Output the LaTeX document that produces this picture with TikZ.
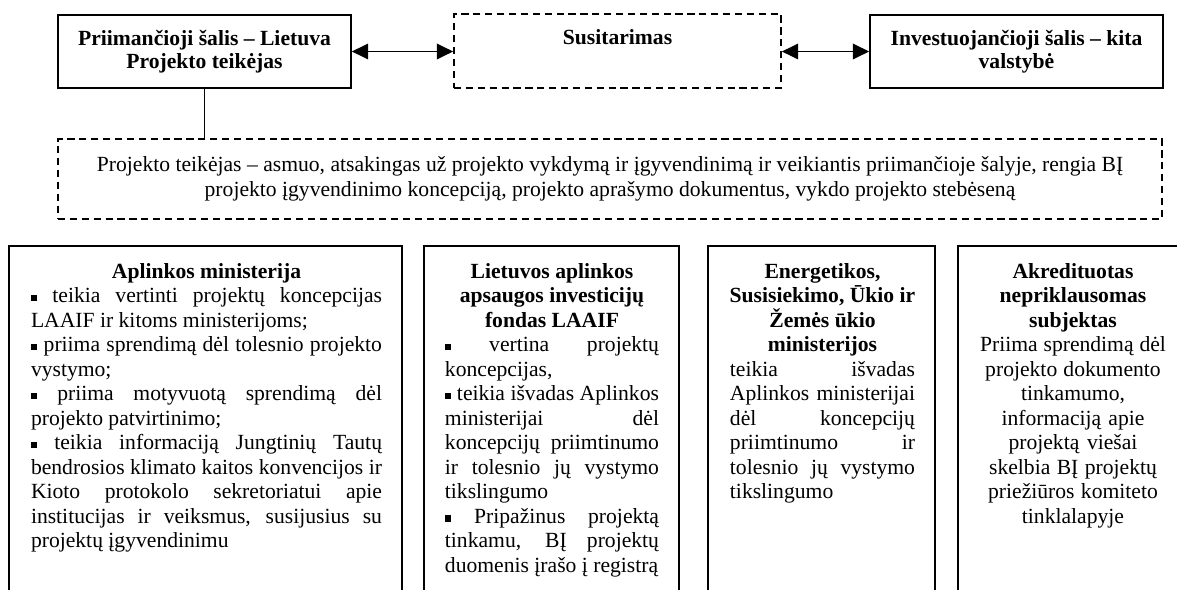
\documentclass[tikz,border=0pt]{standalone}
\usepackage{fontspec}
\setmainfont{Liberation Serif}
\usetikzlibrary{arrows.meta}

\newcommand{\sqb}{\rule[0.08em]{0.3em}{0.3em}}
\newcommand{\plainspace}{\spaceskip=0pt\xspaceskip=0pt\hyphenpenalty=10000\exhyphenpenalty=10000\relax}
\newcommand{\jl}[1]{\makebox[\linewidth][s]{\plainspace #1}\\}
\newcommand{\tl}[1]{\makebox[\linewidth]{\plainspace\bfseries #1}\\}

\begin{document}
\begin{tikzpicture}[x=0.555pt, y=-0.555pt,
	every node/.style={execute at begin node=\plainspace},
	topbox/.style={draw, line width=0.9pt, inner sep=0pt, align=center, minimum width=162.6pt, minimum height=40.5pt, font=\fontsize{12}{13}\selectfont\bfseries},
	dashbox/.style={dash pattern=on 4pt off 2.6pt},
	panel/.style={anchor=north, inner sep=0pt, align=left, font=\fontsize{12}{13.6}\selectfont},
	frame/.style={line width=1pt},
	link/.style={line width=1pt, {Triangle[length=9pt,width=8.5pt]}-{Triangle[length=9pt,width=8.5pt]}}]
	\useasboundingbox (0,0) rectangle (1177,590);
	
	\node[topbox] (host) at (204.5,51.5) {\plainspace Priimančioji šalis – Lietuva\\Projekto teikėjas};
	
	\node[topbox, dashbox, minimum width=181.5pt, minimum height=41.1pt] (agree) at (617.5,51) {Susitarimas\\\phantom{Projekto teikėjas}};
	
	\node[topbox] (investor) at (1016.5,51.5) {\plainspace Investuojančioji šalis – kita\\valstybė};
	
	\draw[link] (host.east) -- (host.east -| agree.west);
	\draw[link] (agree.east |- investor.west) -- (investor.west);
	
	\node[draw, dashbox, line width=0.8pt, inner sep=0pt, minimum width=612.7pt, minimum height=44.4pt, align=center, font=\fontsize{12}{13.6}\selectfont] (note) at (610,179)
		{\plainspace Projekto teikėjas – asmuo, atsakingas už projekto vykdymą ir įgyvendinimą ir veikiantis priimančioje šalyje, rengia BĮ\\projekto įgyvendinimo koncepciją, projekto aprašymo dokumentus, vykdo projekto stebėseną};
	
	\draw[line width=0.8pt] (host.south) -- (host.south |- note.north);
	
	% institutions
	\draw[frame] (9,592) |- (402,246) -- (402,592);
	\draw[frame] (424,592) |- (679,246) -- (679,592);
	\draw[frame] (708,592) |- (935,246) -- (935,592);
	\draw[frame] (958,592) |- (1185,246);
	
	\node[panel, text width=194.8pt] (ministry) at (206.5,263) {%
		\tl{Aplinkos ministerija}
		\jl{\sqb{} teikia vertinti projektų koncepcijas}
		LAAIF ir kitoms ministerijoms;\\
		\jl{\sqb{} priima sprendimą dėl tolesnio projekto}
		vystymo;\\
		\jl{\sqb{} priima motyvuotą sprendimą dėl}
		projekto patvirtinimo;\\
		\jl{\sqb{} teikia informaciją Jungtinių Tautų}
		\jl{bendrosios klimato kaitos konvencijos ir}
		\jl{Kioto protokolo sekretoriatui apie}
		\jl{institucijas ir veiksmus, susijusius su}
		projektų įgyvendinimu};
	
	\node[panel, text width=118.8pt] (fund) at (552,263) {%
		\tl{Lietuvos aplinkos}
		\tl{apsaugos investicijų}
		\tl{fondas LAAIF}
		\jl{\sqb{} vertina projektų}
		koncepcijas,\\
		\jl{\sqb{} teikia išvadas Aplinkos}
		\jl{ministerijai dėl}
		\jl{koncepcijų priimtinumo}
		\jl{ir tolesnio jų vystymo}
		tikslingumo\\
		\jl{\sqb{} Pripažinus projektą}
		\jl{tinkamu, BĮ projektų}
		\mbox{duomenis įrašo į registrą}};
	
	\node[panel, text width=102.7pt] (others) at (822.5,263) {%
		\tl{Energetikos,}
		\tl{Susisiekimo, Ūkio ir}
		\tl{Žemės ūkio}
		\tl{ministerijos}
		\jl{teikia išvadas}
		\jl{Aplinkos ministerijai}
		\jl{dėl koncepcijų}
		\jl{priimtinumo ir}
		\jl{tolesnio jų vystymo}
		tikslingumo};
	
	\node[panel, text width=111pt, align=center] (auditor) at (1073,263) {%
		\textbf{Akredituotas}\\\textbf{nepriklausomas}\\\textbf{subjektas}\\
		Priima sprendimą dėl\\projekto dokumento\\tinkamumo,\\informaciją apie\\projektą viešai\\skelbia BĮ projektų\\priežiūros komiteto\\tinklalapyje};
\end{tikzpicture}
\end{document}
